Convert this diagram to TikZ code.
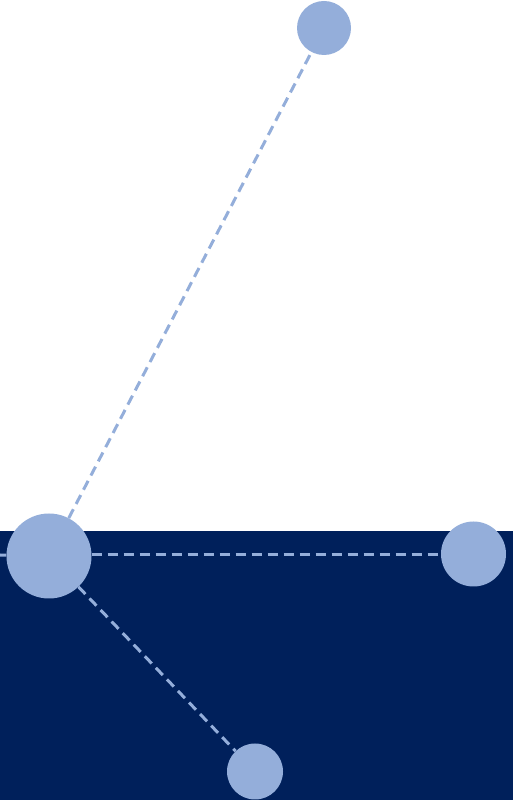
\documentclass[tikz,border=0pt]{standalone}
\definecolor{navy}{HTML}{00205B}
\definecolor{pale}{HTML}{94AEDA}
\tikzset{dot/.style={circle,fill=pale,inner sep=0pt},link/.style={pale,line width=3pt,dash pattern=on 10pt off 6pt}}
\begin{document}
\begin{tikzpicture}[x=1pt,y=1pt]
\useasboundingbox (0,0) rectangle (513,800);
\fill[navy] (0,0) rectangle (513,269);
\node[dot,minimum size=85pt] (hub) at (49,244){};\node[dot,minimum size=54pt] (top) at (324,772){};
\node[dot,minimum size=65pt] (right) at (473.5,246){};\node[dot,minimum size=56pt] (low) at (255,28.5){};
\coordinate (edge) at (0,245);
\draw[link] (edge)--(hub);\draw[link] (hub)--(top);\draw[link] (hub.east|-edge)--(right.west|-edge);\draw[link] (hub)--(low);
\end{tikzpicture}
\end{document}
